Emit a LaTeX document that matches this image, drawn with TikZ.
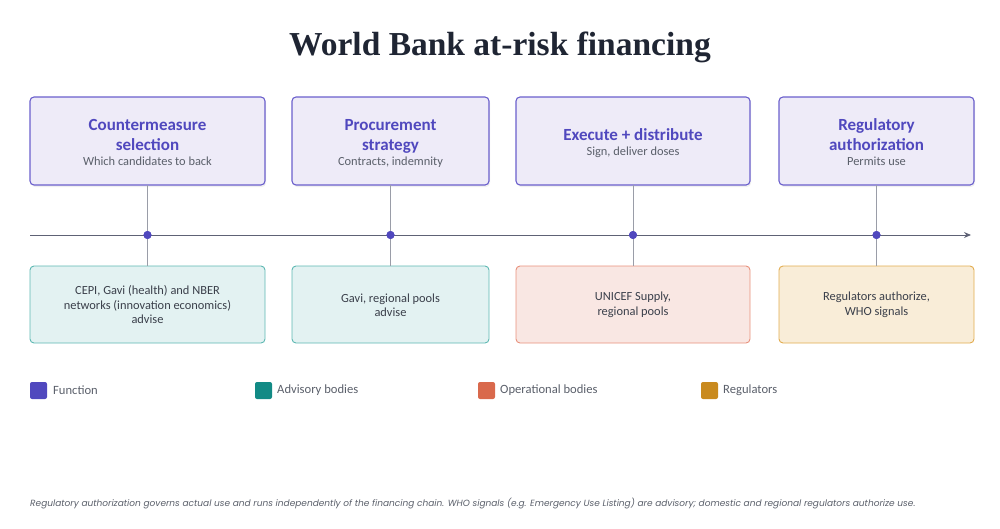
\documentclass[tikz,border=0pt]{standalone}
\usepackage{fontspec}
\setmainfont{Carlito}
\newfontfamily\titlefont{Liberation Serif}
\newfontfamily\notefont{Poppins}
\usetikzlibrary{arrows.meta,shadows}
\definecolor{fnpurple}{HTML}{5048BE}
\definecolor{fnfill}{HTML}{EEEBF8}
\definecolor{fnborder}{HTML}{6A5FCC}
\definecolor{advfill}{HTML}{E3F2F2}
\definecolor{advborder}{HTML}{5DB8B2}
\definecolor{advkey}{HTML}{128A85}
\definecolor{opfill}{HTML}{F9E7E3}
\definecolor{opborder}{HTML}{E8917C}
\definecolor{opkey}{HTML}{D9694C}
\definecolor{regfill}{HTML}{F9EDD8}
\definecolor{regborder}{HTML}{E2AC4E}
\definecolor{regkey}{HTML}{C98A1E}
\definecolor{titlecol}{HTML}{1F2533}
\definecolor{txt}{HTML}{3A3F4A}
\definecolor{subtxt}{HTML}{5A5F6A}
\definecolor{axis}{HTML}{5E6275}
\definecolor{stem}{HTML}{9A9DA8}
\tikzset{
  fnbox/.style={draw=fnborder, line width=1.1pt, fill=fnfill, rounded corners=4pt,
    drop shadow={opacity=0.12, shadow xshift=1pt, shadow yshift=-2pt}},
  bodybox/.style={line width=0.9pt, rounded corners=4pt},
  stemline/.style={draw=stem, line width=0.8pt},
  dotnode/.style={circle, fill=fnpurple, inner sep=0pt, minimum size=8pt},
  keybox/.style={fill=#1, rounded corners=2pt, minimum width=17pt, minimum height=17pt, inner sep=0pt},
  keylabel/.style={anchor=west, text=subtxt, font=\fontsize{12.6}{14}\selectfont, inner sep=0pt},
  fntitle/.style={text=fnpurple, font=\bfseries\fontsize{17}{20}\selectfont, anchor=base, inner sep=0pt},
  fnsub/.style={text=subtxt, font=\fontsize{12.4}{14}\selectfont, anchor=base, inner sep=0pt},
  bodytext/.style={text=txt, font=\fontsize{12.4}{14.5}\selectfont, align=center, inner sep=0pt}
}
\begin{document}
\begin{tikzpicture}[x=1pt,y=-1pt]
\useasboundingbox (0,0) rectangle (1000,528);
\node[font=\titlefont\bfseries\fontsize{33.5}{36}\selectfont, text=titlecol] (title) at (500,47) {World Bank at-risk financing};

% top boxes
\draw[fnbox] (30,97) rectangle (265,185);
\draw[fnbox] (292,97) rectangle (489,185);
\draw[fnbox] (516,97) rectangle (750,185);
\draw[fnbox] (779,97) rectangle (974,185);
\coordinate (t1) at (147.5,185); \coordinate (t2) at (390.5,185);
\coordinate (t3) at (633,185); \coordinate (t4) at (876.5,185);

\node[fntitle] (h1a) at (147.5,130) {Countermeasure};
\node[fntitle] (h1b) at (147.5,150) {selection};
\node[fnsub] (s1) at (147.5,165.5) {Which candidates to back};
\node[fntitle] (h2a) at (390.5,130) {Procurement};
\node[fntitle] (h2b) at (390.5,150) {strategy};
\node[fnsub] (s2) at (390.5,165.5) {Contracts, indemnity};
\node[fntitle] (h3) at (633,140) {Execute + distribute};
\node[fnsub] (s3) at (633,155.5) {Sign, deliver doses};
\node[fntitle] (h4a) at (876.5,130) {Regulatory};
\node[fntitle] (h4b) at (876.5,150) {authorization};
\node[fnsub] (s4) at (876.5,165.5) {Permits use};

% bottom boxes
\draw[bodybox, draw=advborder, fill=advfill] (30,266) rectangle (265,343);
\draw[bodybox, draw=advborder, fill=advfill] (292,266) rectangle (489,343);
\draw[bodybox, draw=opborder, fill=opfill] (516,266) rectangle (750,343);
\draw[bodybox, draw=regborder, fill=regfill] (779,266) rectangle (974,343);
\coordinate (b1) at (147.5,266); \coordinate (b2) at (390.5,266);
\coordinate (b3) at (633,266); \coordinate (b4) at (876.5,266);

\node[bodytext] (x1) at (147.5,305) {CEPI, Gavi (health) and NBER\\networks (innovation economics)\\advise};
\node[bodytext] (x2) at (390.5,305) {Gavi, regional pools\\advise};
\node[bodytext] (x3) at (633,305) {UNICEF Supply,\\regional pools};
\node[bodytext] (x4) at (876.5,305) {Regulators authorize,\\WHO signals};

% axis
\coordinate (axstart) at (30,235);
\coordinate (axend) at (971,235);
\draw[axis, line width=1pt, -{Stealth[length=7pt,width=6pt]}] (axstart) -- (axend);

\node[dotnode] (d1) at (147.5,235) {};
\node[dotnode] (d2) at (390.5,235) {};
\node[dotnode] (d3) at (633,235) {};
\node[dotnode] (d4) at (876.5,235) {};
\foreach \i in {1,2,3,4}{
  \draw[stemline] (t\i) -- (d\i);
  \draw[stemline] (d\i) -- (b\i);
}
\foreach \i in {1,2,3,4}{ \node[dotnode] at (d\i) {}; }

% legend
\node[keybox=fnpurple] (k1) at (38.5,390.5) {};
\node[keylabel] (l1) at (53,390.5) {Function};
\node[keybox=advkey] (k2) at (263.5,390.5) {};
\node[keylabel] (l2) at (277,390.5) {Advisory bodies};
\node[keybox=opkey] (k3) at (486.5,390.5) {};
\node[keylabel] (l3) at (500,390.5) {Operational bodies};
\node[keybox=regkey] (k4) at (709.5,390.5) {};
\node[keylabel] (l4) at (723,390.5) {Regulators};

% footnote
\node[anchor=west, inner sep=0pt, text=subtxt, font=\notefont\itshape\fontsize{9}{10}\selectfont] (note) at (30,504) {Regulatory authorization governs actual use and runs independently of the financing chain. WHO signals (e.g. Emergency Use Listing) are advisory; domestic and regional regulators authorize use.};
\end{tikzpicture}
\end{document}
